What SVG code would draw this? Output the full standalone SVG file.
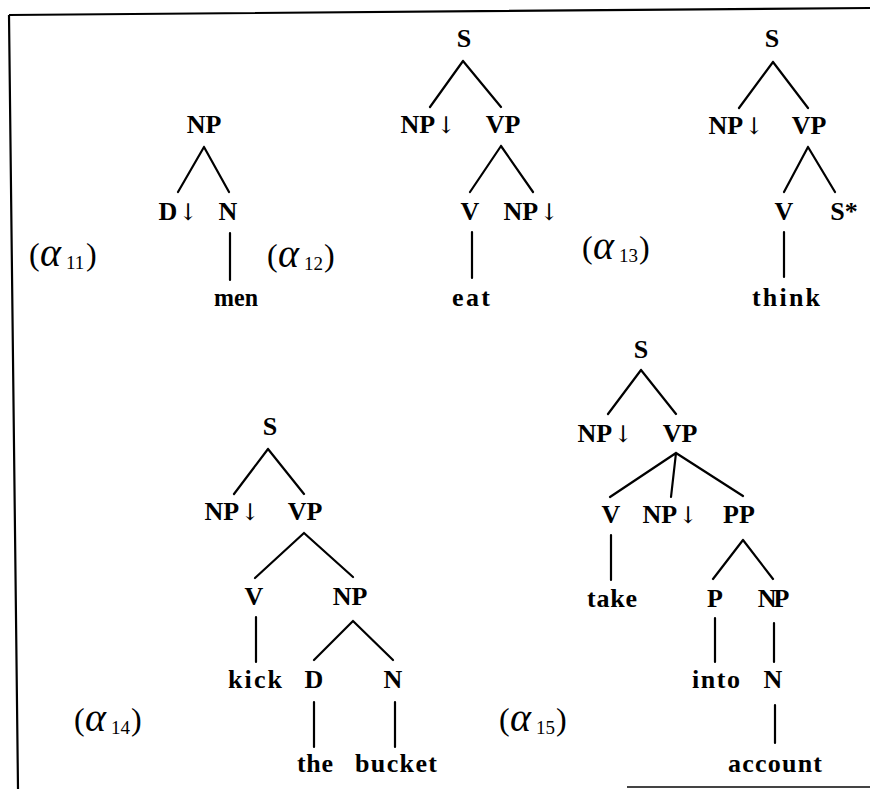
<svg xmlns="http://www.w3.org/2000/svg" width="870" height="789" viewBox="0 0 870 789">
<style>
.t{font-family:"Liberation Serif","Times New Roman",serif;font-weight:bold;font-size:26px;text-anchor:middle;fill:#000}
.ar{font-family:"DejaVu Serif","Liberation Serif",serif;font-weight:normal;font-size:23px}
.e{stroke:#000;stroke-width:2.2;fill:none;stroke-linecap:round}
.fr{stroke:#000;stroke-width:2.2;fill:none}
.p{font-family:"Liberation Serif","Times New Roman",serif;font-size:32px;fill:#000}
.al{font-family:"Liberation Serif","Times New Roman",serif;font-style:italic;font-size:40px;fill:#000}
.sb{font-family:"Liberation Serif","Times New Roman",serif;font-size:19px;fill:#000}
</style>
<rect width="870" height="789" fill="#fff"/>
<g id="frame">
<path class="fr" d="M9,15 L870,8 M9,15 L18,789"/>
<path d="M627,787 L870,787" stroke="#444" stroke-width="2.2"/>
</g>
<g id="connectors">
<path class="e" d="M204,147 L178,192 M204,147 L229,192 M230,233 L230,280"/>
<path class="e" d="M463,61 L430,107 M463,61 L501,107 M501,146 L470,192 M501,146 L533,192 M472,232 L472,278"/>
<path class="e" d="M773,62 L739,108 M773,62 L808,108 M808,147 L784,192 M808,147 L835,192 M784,232 L784,277"/>
<path class="e" d="M268,449 L234,494 M268,449 L304,494 M304,533 L255,578 M304,533 L353,577 M256,617 L256,662 M353,621 L314,660 M353,621 L393,660 M314,702 L314,747 M395,702 L395,747"/>
<path class="e" d="M641,370 L608,414 M641,370 L676,414 M676,453 L610,497 M676,453 L671,497 M676,453 L743,496 M611,535 L611,580 M743,540 L713,579 M743,540 L773,579 M715,618 L715,662 M774,623 L774,662 M775,705 L775,743"/>
</g>
<g id="tree-a11">
<g id="a11-np"><text class="t" x="204" y="133">NP</text></g>
<g id="a11-d"><text class="t" x="178" y="220">D<tspan class="ar" dx="1">↓</tspan></text></g>
<g id="a11-n"><text class="t" x="228" y="220">N</text></g>
<g id="a11-men"><text class="t" x="236" y="306" textLength="44" lengthAdjust="spacingAndGlyphs">men</text></g>
</g>
<g id="tree-a12">
<g id="a12-s"><text class="t" x="464" y="47">S</text></g>
<g id="a12-np"><text class="t" x="428" y="133">NP<tspan class="ar" dx="1">↓</tspan></text></g>
<g id="a12-vp"><text class="t" x="503" y="133">VP</text></g>
<g id="a12-v"><text class="t" x="470" y="220">V</text></g>
<g id="a12-np2"><text class="t" x="531" y="220">NP<tspan class="ar" dx="1">↓</tspan></text></g>
<g id="a12-eat"><text class="t" x="471" y="306" textLength="38" lengthAdjust="spacing">eat</text></g>
</g>
<g id="tree-a13">
<g id="a13-s"><text class="t" x="772" y="47">S</text></g>
<g id="a13-np"><text class="t" x="736" y="134">NP<tspan class="ar" dx="1">↓</tspan></text></g>
<g id="a13-vp"><text class="t" x="809" y="134">VP</text></g>
<g id="a13-v"><text class="t" x="784" y="220">V</text></g>
<g id="a13-sstar"><text class="t" x="844" y="220">S*</text></g>
<g id="a13-think"><text class="t" x="786" y="306" textLength="68" lengthAdjust="spacing">think</text></g>
</g>
<g id="tree-a14">
<g id="a14-s"><text class="t" x="270" y="435">S</text></g>
<g id="a14-np"><text class="t" x="232" y="520">NP<tspan class="ar" dx="1">↓</tspan></text></g>
<g id="a14-vp"><text class="t" x="305" y="520">VP</text></g>
<g id="a14-v"><text class="t" x="254" y="605">V</text></g>
<g id="a14-np2"><text class="t" x="350" y="605">NP</text></g>
<g id="a14-kick"><text class="t" x="255" y="688" textLength="54" lengthAdjust="spacing">kick</text></g>
<g id="a14-d"><text class="t" x="314" y="688">D</text></g>
<g id="a14-n"><text class="t" x="393" y="688">N</text></g>
<g id="a14-the"><text class="t" x="315" y="772" textLength="36" lengthAdjust="spacing">the</text></g>
<g id="a14-bucket"><text class="t" x="396" y="772" textLength="82" lengthAdjust="spacing">bucket</text></g>
</g>
<g id="tree-a15">
<g id="a15-s"><text class="t" x="641" y="358">S</text></g>
<g id="a15-np"><text class="t" x="605" y="442">NP<tspan class="ar" dx="1">↓</tspan></text></g>
<g id="a15-vp"><text class="t" x="680" y="442">VP</text></g>
<g id="a15-v"><text class="t" x="611" y="523">V</text></g>
<g id="a15-np2"><text class="t" x="670" y="523">NP<tspan class="ar" dx="1">↓</tspan></text></g>
<g id="a15-pp"><text class="t" x="739" y="523">PP</text></g>
<g id="a15-take"><text class="t" x="612" y="607" textLength="50" lengthAdjust="spacing">take</text></g>
<g id="a15-p"><text class="t" x="715" y="607">P</text></g>
<g id="a15-np3"><text class="t" x="772" y="607" letter-spacing="-3">NP</text></g>
<g id="a15-into"><text class="t" x="716" y="688" textLength="48" lengthAdjust="spacing">into</text></g>
<g id="a15-n"><text class="t" x="773" y="688">N</text></g>
<g id="a15-account"><text class="t" x="775" y="772" textLength="94" lengthAdjust="spacing">account</text></g>
</g>
<g id="labels">
<g id="label-a11"><text class="p" x="29" y="265">(</text><text class="al" x="40" y="266">α</text><text class="sb" x="66" y="269">11</text><text class="p" x="86" y="265">)</text></g>
<g id="label-a12"><text class="p" x="267" y="266">(</text><text class="al" x="278" y="267">α</text><text class="sb" x="304" y="270">12</text><text class="p" x="324" y="266">)</text></g>
<g id="label-a13"><text class="p" x="582" y="258">(</text><text class="al" x="593" y="259">α</text><text class="sb" x="619" y="262">13</text><text class="p" x="639" y="258">)</text></g>
<g id="label-a14"><text class="p" x="74" y="730">(</text><text class="al" x="85" y="731">α</text><text class="sb" x="111" y="734">14</text><text class="p" x="131" y="730">)</text></g>
<g id="label-a15"><text class="p" x="499" y="730">(</text><text class="al" x="510" y="731">α</text><text class="sb" x="536" y="734">15</text><text class="p" x="556" y="730">)</text></g>
</g>
</svg>
